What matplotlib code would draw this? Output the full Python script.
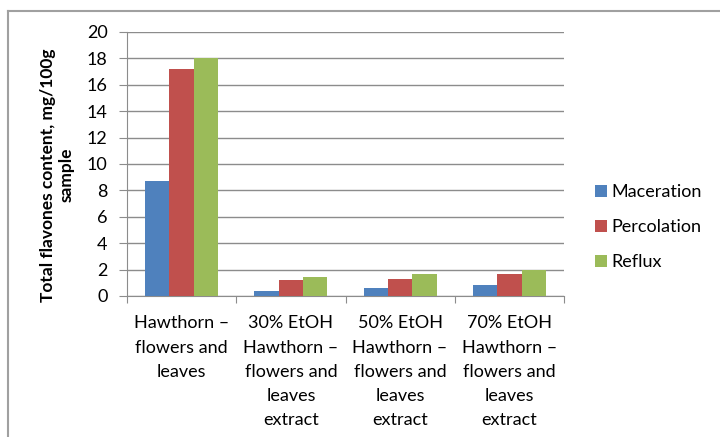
import matplotlib.pyplot as plt
import matplotlib.lines as mlines
import numpy as np

plt.rcParams['font.family'] = ['Lato', 'DejaVu Sans']

categories = [
    "Hawthorn \u2013\nflowers and\nleaves",
    "30% EtOH\nHawthorn \u2013\nflowers and\nleaves\nextract",
    "50% EtOH\nHawthorn \u2013\nflowers and\nleaves\nextract",
    "70% EtOH\nHawthorn \u2013\nflowers and\nleaves\nextract",
]
maceration = [8.75, 0.37, 0.62, 0.83]
percolation = [17.2, 1.22, 1.32, 1.66]
reflux = [18.0, 1.42, 1.66, 1.95]

series = [("Maceration", maceration, "#4F81BD"),
          ("Percolation", percolation, "#C0504D"),
          ("Reflux", reflux, "#9BBB59")]

fig = plt.figure(figsize=(7.2, 4.37), dpi=100)

# outer chart frame (top and left edges only visible)
frame_kw = dict(transform=fig.transFigure, color="#A0A0A0", linewidth=1.5)
fig.lines.append(mlines.Line2D([8 / 720, 1], [1 - 11 / 437] * 2, **frame_kw))
fig.lines.append(mlines.Line2D([8 / 720] * 2, [0, 1 - 11 / 437], **frame_kw))

ax = fig.add_axes([127 / 720, 1 - 296 / 437, 437 / 720, 264 / 437])

x = np.arange(len(categories))
w = 1 / 4.5
for i, (name, vals, color) in enumerate(series):
    ax.bar(x + (i - 1) * w, vals, width=w, color=color, label=name, zorder=3)

ax.set_xlim(-0.5, len(categories) - 0.5)
ax.set_ylim(0, 20)
ax.set_yticks(range(0, 21, 2))
ax.yaxis.grid(True, color="#8C8C8C", linewidth=1)
ax.set_axisbelow(True)

# category boundaries get the tick marks, labels sit between them
ax.set_xticks(np.arange(-0.5, len(categories), 1))
ax.set_xticklabels([])
ax.set_xticks(x, minor=True)
ax.set_xticklabels(categories, minor=True, fontsize=13, linespacing=1.62,
                   va="top", ha="center")
ax.tick_params(axis="x", which="minor", length=0, pad=14)
ax.tick_params(axis="x", which="major", length=5, color="#8C8C8C")
ax.tick_params(axis="y", length=6, color="#8C8C8C", labelsize=13, pad=8)

for s in ["top", "right"]:
    ax.spines[s].set_visible(False)
for s in ["left", "bottom"]:
    ax.spines[s].set_color("#8C8C8C")

fig.text(57 / 720, 1 - 175 / 437, "Total flavones content, mg/100g\nsample",
         rotation=90, ha="center", va="center", fontsize=12.5,
         fontweight="bold", linespacing=1.2, multialignment="center")

ax.legend(loc="center left", bbox_to_anchor=(1 + 31 / 437, 0.26),
          frameon=False, fontsize=13, handlelength=0.65, handleheight=0.65,
          handletextpad=0.25, labelspacing=1.05, borderpad=0,
          borderaxespad=0)

plt.savefig("out.png", dpi=100)
